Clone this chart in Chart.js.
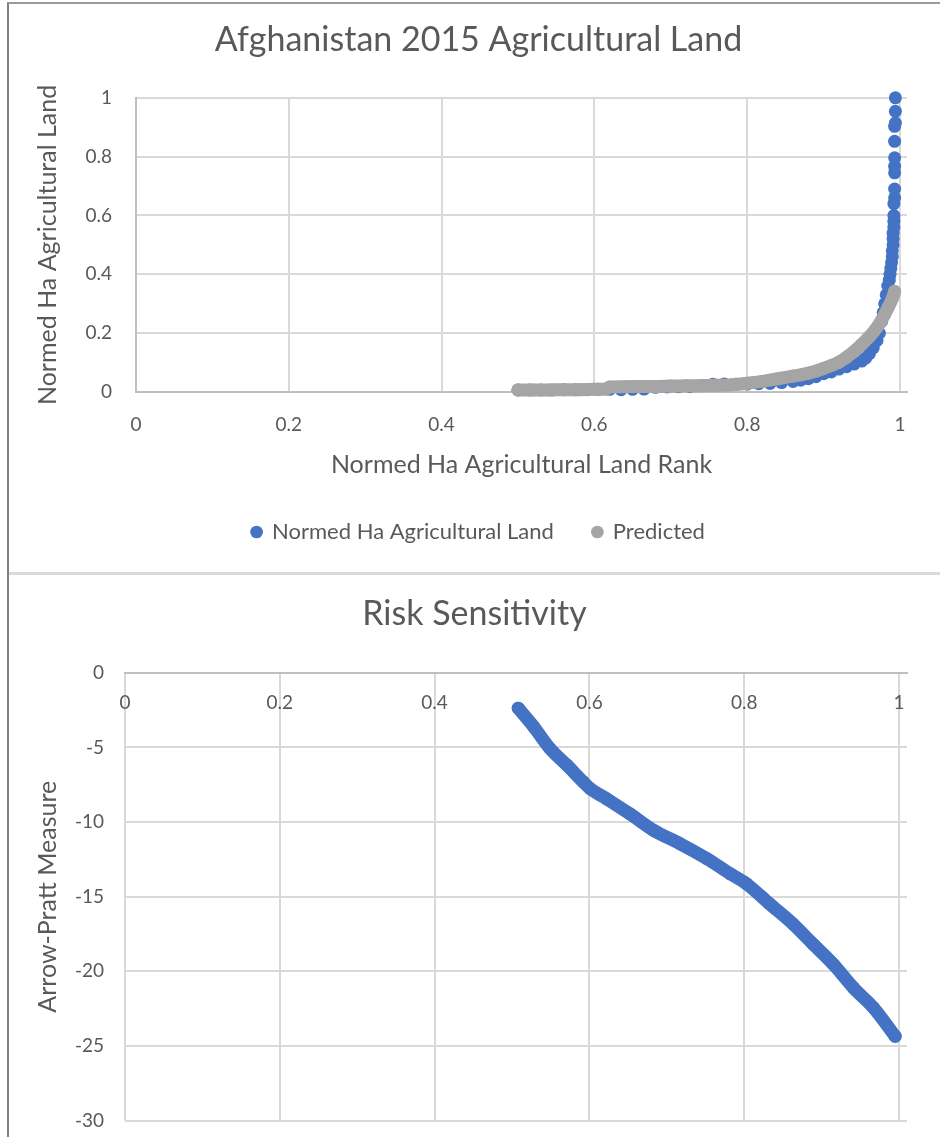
<!DOCTYPE html>
<html>
<head>
<meta charset="utf-8">
<script src="https://cdn.jsdelivr.net/npm/chart.js@4.4.1/dist/chart.umd.min.js"></script>
<style>
  html, body { margin: 0; padding: 0; background: #fff; }
  body { width: 940px; height: 1137px; position: relative; overflow: hidden; }
  #frame { position: absolute; left: 7px; top: 2px; width: 940px; height: 1200px;
           border-left: 2px solid #7f7f7f; border-top: 2px solid #9a9a9a; }
  #sep { position: absolute; left: 9px; top: 572px; width: 931px; height: 3px; background: #d9d9d9; }
  canvas { position: absolute; }
  #landChart { left: 9px; top: 4px; }
  #riskChart { left: 9px; top: 575px; }
</style>
</head>
<body>
<div id="frame"></div>
<div id="sep"></div>
<canvas id="landChart" width="931" height="568"></canvas>
<canvas id="riskChart" width="931" height="578"></canvas>
<script>
// ---- data ----
const landRank = [0.50, 0.515, 0.53, 0.545, 0.56, 0.575, 0.59, 0.605, 0.62, 0.635, 0.65, 0.665,
  0.68, 0.695, 0.71, 0.725, 0.74, 0.755, 0.77, 0.785, 0.80, 0.815, 0.83, 0.845, 0.86, 0.87,
  0.88, 0.89, 0.90, 0.91, 0.92, 0.93, 0.94, 0.95, 0.955, 0.96, 0.965, 0.97, 0.973, 0.976,
  0.978, 0.98, 0.982, 0.984, 0.986, 0.987, 0.988, 0.989, 0.990, 0.990, 0.991, 0.991, 0.991,
  0.992, 0.992, 0.992, 0.992, 0.993, 0.993, 0.993, 0.993, 0.993, 0.993, 0.993, 0.994, 0.994, 0.994];
const landValue = [0.007, 0.007, 0.007, 0.007, 0.008, 0.008, 0.008, 0.009, 0.009, 0.008, 0.009, 0.010,
  0.016, 0.017, 0.018, 0.019, 0.021, 0.026, 0.027, 0.026, 0.027, 0.028, 0.029, 0.032, 0.036, 0.040,
  0.045, 0.052, 0.062, 0.068, 0.078, 0.086, 0.095, 0.105, 0.115, 0.130, 0.150, 0.175, 0.200, 0.240,
  0.270, 0.300, 0.330, 0.360, 0.380, 0.400, 0.420, 0.440, 0.460, 0.480, 0.500, 0.520, 0.540,
  0.560, 0.580, 0.600, 0.640, 0.660, 0.690, 0.745, 0.767, 0.796, 0.852, 0.903, 0.914, 0.954, 1.000];

const predRank = [0.50, 0.52, 0.54, 0.56, 0.58, 0.60, 0.615, 0.62, 0.64, 0.66, 0.68, 0.70, 0.72,
  0.74, 0.76, 0.78, 0.80, 0.82, 0.84, 0.86, 0.87, 0.88, 0.89, 0.90, 0.91, 0.92, 0.93, 0.94,
  0.95, 0.96, 0.965, 0.97, 0.975, 0.98, 0.985, 0.99, 0.993];
const predValue = [0.007, 0.007, 0.007, 0.008, 0.008, 0.009, 0.010, 0.017, 0.018, 0.019, 0.019, 0.020, 0.021,
  0.022, 0.023, 0.025, 0.030, 0.036, 0.045, 0.054, 0.058, 0.064, 0.071, 0.080, 0.090, 0.101, 0.118, 0.138,
  0.162, 0.188, 0.203, 0.220, 0.240, 0.264, 0.290, 0.318, 0.342];

const riskRank = [0.508, 0.528, 0.549, 0.571, 0.592, 0.601, 0.622, 0.652, 0.683, 0.717,
  0.752, 0.782, 0.803, 0.833, 0.863, 0.889, 0.915, 0.941, 0.967, 0.995];
const riskValue = [-2.37, -3.61, -5.07, -6.19, -7.31, -7.76, -8.43, -9.44, -10.56, -11.45,
  -12.46, -13.47, -14.14, -15.49, -16.83, -18.18, -19.52, -21.10, -22.44, -24.35];

const rankTicks = [0, 0.2, 0.4, 0.6, 0.8, 1];
const rankTickLabels = ["0", "0.2", "0.4", "0.6", "0.8", "1"];
const landTicks = [0, 0.2, 0.4, 0.6, 0.8, 1];
const landTickLabels = ["0", "0.2", "0.4", "0.6", "0.8", "1"];
const riskTicks = [-30, -25, -20, -15, -10, -5, 0];
const riskTickLabels = ["-30", "-25", "-20", "-15", "-10", "-5", "0"];

const blue = "#4472C4";
const grey = "#A5A5A5";
const textGrey = "#595959";

Chart.defaults.font.family = "Lato";
Chart.defaults.color = textGrey;

const toPoints = (xs, ys) => xs.map((x, i) => ({ x: x, y: ys[i] }));
const fixedTicks = (values) => (scale) => {
  scale.ticks = values.map((v) => ({ value: v }));
};

const gridStyle = { color: "#d9d9d9", lineWidth: 2, drawTicks: false };
const borderStyle = { color: "#bfbfbf", width: 2 };

// empty right-hand axis, only keeps a margin on the right like the Excel plot area
const rightMargin = {
  type: "linear",
  position: "right",
  min: 0,
  max: 1,
  afterFit: (scale) => { scale.width = 33; },
  ticks: { display: false },
  grid: { display: false },
  border: { display: false },
};

new Chart(document.getElementById("landChart"), {
  type: "scatter",
  data: {
    datasets: [
      {
        label: "Normed Ha Agricultural Land",
        data: toPoints(landRank, landValue),
        backgroundColor: blue,
        borderColor: blue,
        pointRadius: 6.5,
        pointBorderWidth: 0,
        order: 2,
        clip: false,
      },
      {
        label: "Predicted",
        data: toPoints(predRank, predValue),
        showLine: true,
        cubicInterpolationMode: "monotone",
        backgroundColor: grey,
        borderColor: grey,
        borderWidth: 13,
        borderCapStyle: "round",
        borderJoinStyle: "round",
        pointRadius: 6.5,
        pointBorderWidth: 0,
        order: 1,
        clip: false,
      },
    ],
  },
  options: {
    responsive: false,
    animation: false,
    events: [],
    layout: { padding: { left: 8, right: 0, top: 0, bottom: 19 } },
    scales: {
      x: {
        type: "linear",
        min: 0,
        max: 1.0092,
        afterBuildTicks: fixedTicks(rankTicks),
        afterFit: (scale) => { scale.height = 90; },
        ticks: {
          padding: 21,
          font: { size: 19 },
          callback: (v, i) => rankTickLabels[i],
        },
        grid: gridStyle,
        border: borderStyle,
        title: {
          display: true,
          text: "Normed Ha Agricultural Land Rank",
          font: { size: 25 },
          padding: { top: 0, bottom: 2 },
        },
      },
      y: {
        min: 0,
        max: 1,
        afterBuildTicks: fixedTicks(landTicks),
        afterFit: (scale) => { scale.width = 119; },
        ticks: {
          padding: 24,
          font: { size: 19 },
          callback: (v, i) => landTickLabels[i],
        },
        grid: gridStyle,
        border: borderStyle,
        title: {
          display: true,
          text: "Normed Ha Agricultural Land",
          font: { size: 25 },
          padding: { top: 16, bottom: 0 },
        },
      },
      yRight: rightMargin,
    },
    plugins: {
      title: {
        display: true,
        text: "Afghanistan 2015 Agricultural Land",
        font: { size: 34, weight: "normal" },
        color: textGrey,
        padding: { top: 16, bottom: 37 },
      },
      legend: {
        position: "bottom",
        labels: {
          usePointStyle: true,
          pointStyle: "circle",
          boxWidth: 9,
          boxHeight: 9,
          padding: 39,
          font: { size: 22 },
          color: textGrey,
          sort: (a, b) => a.datasetIndex - b.datasetIndex,
        },
      },
      tooltip: { enabled: false },
    },
  },
});

new Chart(document.getElementById("riskChart"), {
  type: "scatter",
  data: {
    datasets: [
      {
        label: "Arrow-Pratt Measure",
        data: toPoints(riskRank, riskValue),
        showLine: true,
        cubicInterpolationMode: "monotone",
        backgroundColor: blue,
        borderColor: blue,
        borderWidth: 13,
        borderCapStyle: "round",
        borderJoinStyle: "round",
        pointRadius: 6.5,
        pointBorderWidth: 0,
        clip: false,
      },
    ],
  },
  options: {
    responsive: false,
    animation: false,
    events: [],
    layout: { padding: { left: 0, right: 0, top: 0, bottom: 1 } },
    scales: {
      x: {
        type: "linear",
        min: 0,
        max: 1.0103,
        position: { y: 0 },
        afterBuildTicks: fixedTicks(rankTicks),
        afterFit: (scale) => { scale.height = 0; },
        ticks: {
          padding: 19,
          font: { size: 19 },
          callback: (v, i) => rankTickLabels[i],
        },
        grid: gridStyle,
        border: borderStyle,
      },
      y: {
        min: -30,
        max: 0,
        afterBuildTicks: fixedTicks(riskTicks),
        afterFit: (scale) => { scale.width = 116; },
        ticks: {
          padding: 21,
          font: { size: 19 },
          callback: (v, i) => riskTickLabels[i],
        },
        grid: gridStyle,
        border: { display: false },
        title: {
          display: true,
          text: "Arrow-Pratt Measure",
          font: { size: 25 },
          padding: { top: 24, bottom: 0 },
        },
      },
      yRight: rightMargin,
    },
    plugins: {
      title: {
        display: true,
        text: "Risk Sensitivity",
        font: { size: 34, weight: "normal" },
        color: textGrey,
        padding: { top: 19, bottom: 38 },
      },
      legend: { display: false },
      tooltip: { enabled: false },
    },
  },
});
</script>
</body>
</html>
